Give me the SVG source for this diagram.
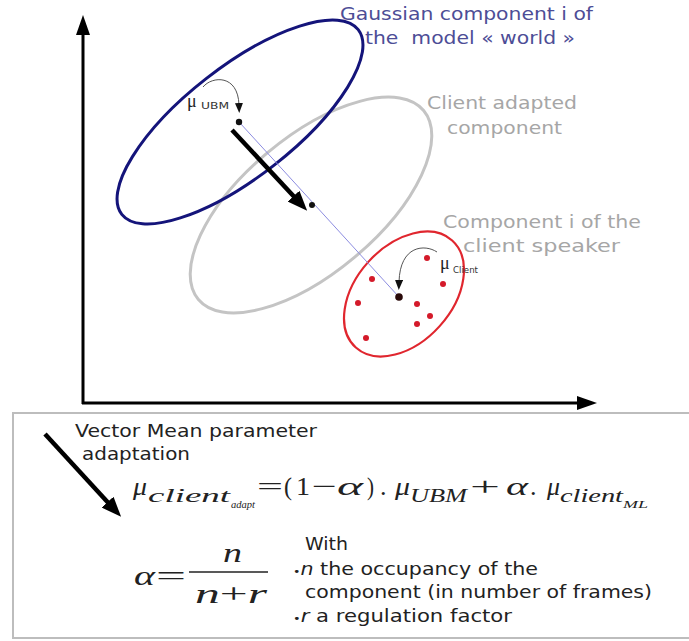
<svg xmlns="http://www.w3.org/2000/svg" width="689" height="641" viewBox="0 0 689 641">
<defs>
<style>
.lbl{font-family:"DejaVu Sans","Verdana",sans-serif;font-size:18px}
.gauss{fill:#4d4d96}
.gray{fill:#a6a6a6}
.txt{font-family:"DejaVu Sans",sans-serif;font-size:18px;fill:#222}
.m{font-family:"Liberation Serif","Times New Roman",serif;fill:#222}
.it{font-style:italic}
.mu{font-family:"Liberation Serif",serif;font-size:18px;fill:#222}
.sub{font-family:"DejaVu Sans",sans-serif;font-size:9px;fill:#333}
.axis{stroke:#000;stroke-width:3;fill:none}
.thick{stroke:#000;stroke-width:4.5;fill:none}
.curve{stroke:#555;stroke-width:1;fill:none}
.rdot{fill:#d41a2a}
</style>
<marker id="ahAxis" viewBox="0 0 20 14" refX="8" refY="7" markerWidth="20" markerHeight="14" markerUnits="userSpaceOnUse" orient="auto"><path d="M0,0 L20,7 L0,14 z" fill="#000"/></marker>
<marker id="ahThick" viewBox="0 0 20 16" refX="8" refY="8" markerWidth="20" markerHeight="16" markerUnits="userSpaceOnUse" orient="auto"><path d="M0,0 L20,8 L0,16 z" fill="#000"/></marker>
<marker id="ahSmall" viewBox="0 0 10 8" refX="2" refY="4" markerWidth="10" markerHeight="8" markerUnits="userSpaceOnUse" orient="auto"><path d="M0,0 L10,4 L0,8 z" fill="#111"/></marker>
</defs>
<rect width="689" height="641" fill="#fff"/>

<g id="axes">
<line class="axis" x1="83" y1="404" x2="83" y2="27" marker-end="url(#ahAxis)"/>
<line class="axis" x1="82" y1="403" x2="585" y2="403" marker-end="url(#ahAxis)"/>
</g>

<g id="ellipse-adapted">
<ellipse cx="311" cy="205" rx="147" ry="68" transform="rotate(-40 311 205)" fill="none" stroke="#c4c4c4" stroke-width="3"/>
</g>
<g id="ellipse-world">
<ellipse cx="240" cy="122" rx="150" ry="55" transform="rotate(-38 240 122)" fill="none" stroke="#14147a" stroke-width="3"/>
</g>
<g id="ellipse-client">
<ellipse cx="404" cy="294" rx="72" ry="48" transform="rotate(-48 404 294)" fill="none" stroke="#e0262e" stroke-width="2.2"/>
<circle class="rdot" cx="427" cy="258" r="3"/>
<circle class="rdot" cx="372" cy="279" r="3"/>
<circle class="rdot" cx="443" cy="284" r="3"/>
<circle class="rdot" cx="358" cy="303" r="3"/>
<circle class="rdot" cx="417" cy="304" r="3"/>
<circle class="rdot" cx="430" cy="316" r="3"/>
<circle class="rdot" cx="417" cy="324" r="3"/>
<circle class="rdot" cx="366" cy="338" r="3"/>
</g>

<g id="connectors">
<line x1="240" y1="123" x2="399" y2="297" stroke="#8c8ce0" stroke-width="1"/>
<line class="thick" x1="232" y1="130" x2="299" y2="202" marker-end="url(#ahThick)"/>
<path class="curve" d="M203,87 C212,76 238,74 239,105" marker-end="url(#ahSmall)"/>
<path class="curve" d="M437,252 C425,244 400,245 399,282" marker-end="url(#ahSmall)"/>
<line class="thick" x1="45" y1="434" x2="113" y2="508" marker-end="url(#ahThick)"/>
</g>

<g id="points">
<circle cx="239" cy="122" r="3.2" fill="#111"/>
<circle cx="312" cy="205" r="3" fill="#111"/>
<circle cx="399" cy="297" r="3.8" fill="#2a0a0a"/>
</g>

<g id="mu-ubm">
<text class="mu" x="187" y="107">μ</text>
<text class="sub" x="201" y="109" textLength="28" lengthAdjust="spacingAndGlyphs">UBM</text>
</g>
<g id="mu-client">
<text class="mu" x="440" y="269">μ</text>
<text class="sub" x="453" y="273" font-size="8" textLength="25" lengthAdjust="spacingAndGlyphs">Client</text>
</g>

<g id="label-world">
<text class="lbl gauss" x="340" y="20" textLength="253" lengthAdjust="spacingAndGlyphs">Gaussian component i of</text>
<text class="lbl gauss" x="365" y="44" textLength="210" lengthAdjust="spacingAndGlyphs" xml:space="preserve">the  model « world »</text>
</g>
<g id="label-adapted">
<text class="lbl gray" x="427" y="109" textLength="150" lengthAdjust="spacingAndGlyphs">Client adapted</text>
<text class="lbl gray" x="447" y="134" textLength="115" lengthAdjust="spacingAndGlyphs">component</text>
</g>
<g id="label-client">
<text class="lbl gray" x="443" y="228" textLength="198" lengthAdjust="spacingAndGlyphs">Component i of the</text>
<text class="lbl gray" x="463" y="252" textLength="157" lengthAdjust="spacingAndGlyphs">client speaker</text>
</g>

<g id="formula-box">
<rect x="13" y="413" width="690" height="225" fill="none" stroke="#bdbdbd" stroke-width="2"/>
<text class="txt" x="75" y="437" textLength="242" lengthAdjust="spacingAndGlyphs">Vector Mean parameter</text>
<text class="txt" x="82" y="460" textLength="108" lengthAdjust="spacingAndGlyphs">adaptation</text>

<text class="m it" x="133" y="495" font-size="26" textLength="14" lengthAdjust="spacingAndGlyphs">μ</text>
<text class="m it" x="148" y="502" font-size="18" textLength="82" lengthAdjust="spacingAndGlyphs">client</text>
<text class="m it" x="231" y="508" font-size="10" textLength="24" lengthAdjust="spacingAndGlyphs">adapt</text>
<text class="m" x="257" y="495" font-size="26" textLength="26" lengthAdjust="spacingAndGlyphs">=</text>
<text class="m" x="284" y="495" font-size="26" textLength="8" lengthAdjust="spacingAndGlyphs">(</text>
<text class="m" x="296" y="495" font-size="26" textLength="14" lengthAdjust="spacingAndGlyphs">1</text>
<text class="m" x="312" y="495" font-size="26" textLength="25" lengthAdjust="spacingAndGlyphs">−</text>
<text class="m it" x="337" y="495" font-size="26" textLength="26" lengthAdjust="spacingAndGlyphs">α</text>
<text class="m" x="367" y="495" font-size="26" textLength="7" lengthAdjust="spacingAndGlyphs">)</text>
<text class="m" x="380" y="495" font-size="26">.</text>
<text class="m it" x="395" y="495" font-size="26" textLength="15" lengthAdjust="spacingAndGlyphs">μ</text>
<text class="m it" x="410" y="502" font-size="18" textLength="57" lengthAdjust="spacingAndGlyphs">UBM</text>
<text class="m" x="470" y="495" font-size="26" textLength="30" lengthAdjust="spacingAndGlyphs">+</text>
<text class="m it" x="506" y="495" font-size="26" textLength="22" lengthAdjust="spacingAndGlyphs">α</text>
<text class="m" x="530" y="495" font-size="26">.</text>
<text class="m it" x="547" y="495" font-size="26" textLength="13" lengthAdjust="spacingAndGlyphs">μ</text>
<text class="m it" x="560" y="502" font-size="18" textLength="63" lengthAdjust="spacingAndGlyphs">client</text>
<text class="m it" x="623" y="508" font-size="10" textLength="25" lengthAdjust="spacingAndGlyphs">ML</text>

<text class="m it" x="134" y="585" font-size="28" textLength="21" lengthAdjust="spacingAndGlyphs">α</text>
<text class="m" x="156" y="585" font-size="28" textLength="30" lengthAdjust="spacingAndGlyphs">=</text>
<line x1="189" y1="572" x2="268" y2="572" stroke="#222" stroke-width="1.4"/>
<text class="m it" x="223" y="562" font-size="28" textLength="19" lengthAdjust="spacingAndGlyphs">n</text>
<text class="m" x="195" y="603" font-size="28" textLength="72" lengthAdjust="spacingAndGlyphs"><tspan font-style="italic">n</tspan>+<tspan font-style="italic">r</tspan></text>

<text class="txt" x="305" y="550" textLength="43" lengthAdjust="spacingAndGlyphs">With</text>
<text class="txt" x="293" y="575" textLength="245" lengthAdjust="spacingAndGlyphs"><tspan font-size="11">•</tspan><tspan font-style="italic">n</tspan> the occupancy of the</text>
<text class="txt" x="305" y="598" textLength="347" lengthAdjust="spacingAndGlyphs">component (in number of frames)</text>
<text class="txt" x="293" y="622" textLength="219" lengthAdjust="spacingAndGlyphs"><tspan font-size="11">•</tspan><tspan font-style="italic">r</tspan> a regulation factor</text>
</g>
</svg>
